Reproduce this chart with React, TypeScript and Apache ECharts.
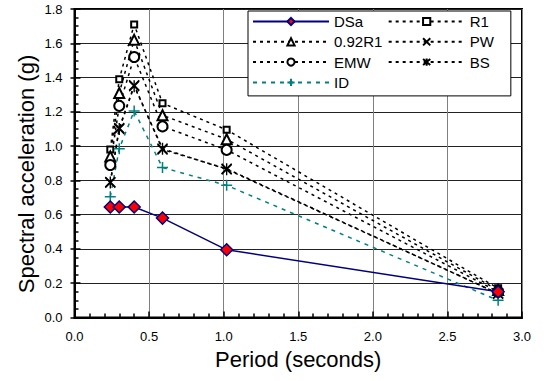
import React, { useEffect, useRef } from "react";
import * as echarts from "echarts";

const periods = [0.24, 0.30, 0.40, 0.59, 1.02, 2.84];
const dsa = [0.645, 0.645, 0.645, 0.58, 0.395, 0.15];
const r1 = [0.98, 1.39, 1.71, 1.25, 1.095, 0.17];
const r1x092 = [0.94, 1.31, 1.62, 1.18, 1.04, 0.16];
const emw = [0.89, 1.235, 1.52, 1.115, 0.978, 0.15];
const pw = [0.79, 1.105, 1.355, 0.98, 0.868, 0.14];
const bs = [0.787, 1.10, 1.35, 0.985, 0.865, 0.14];
const idv = [0.705, 0.985, 1.205, 0.875, 0.771, 0.10];

const xTicks = ["0.0", "0.5", "1.0", "1.5", "2.0", "2.5", "3.0"];
const yTicks = ["0.0", "0.2", "0.4", "0.6", "0.8", "1.0", "1.2", "1.4", "1.6", "1.8"];
const xTitle = "Period (seconds)";
const yTitle = "Spectral acceleration (g)";

const PLUS = "path://M5,0 L5,10 M0,5 L10,5";
const CROSS = "path://M0,0 L10,10 M0,10 L10,0";
const STAR = "path://M0,1 L10,11 M0,11 L10,1 M5,0 L5,12";

const pts = (ys: number[]) => periods.map((p, i) => [p, ys[i]]);

export default function App() {
  const ref = useRef<HTMLDivElement>(null);
  useEffect(() => {
    if (!ref.current) return;
    const chart = echarts.init(ref.current, undefined, { renderer: "svg" });
    const font = "Liberation Sans, Arial, sans-serif";
    const dotted = (color: string, dash: number[]) => ({
      color,
      width: 1.5,
      type: dash,
    });
    chart.setOption({
      animation: false,
      backgroundColor: "#fff",
      textStyle: { fontFamily: font },
      grid: {
        left: 74.5,
        right: 22,
        top: 9,
        bottom: 63.5,
        show: true,
        borderColor: "#000",
        borderWidth: 2,
        backgroundColor: "#fff",
      },
      graphic: [
        {
          type: "text",
          x: 26,
          y: 174,
          rotation: Math.PI / 2,
          style: {
            text: yTitle,
            fontSize: 22,
            fontFamily: font,
            fill: "#000",
            align: "center",
            verticalAlign: "middle",
          },
        },
      ],
      legend: {
        orient: "vertical",
        left: 248,
        top: 11,
        height: 76,
        itemWidth: 76,
        itemHeight: 9,
        itemGap: 5.3,
        padding: [3, 17, 6, 4],
        backgroundColor: "#fff",
        borderColor: "#000",
        borderWidth: 1,
        textStyle: { fontSize: 15, color: "#000", fontFamily: font },
        data: [
          "DSa",
          { name: "0.92R1", textStyle: { width: 52 } },
          "EMW",
          "ID",
          "R1",
          "PW",
          "BS",
        ],
      },
      xAxis: {
        type: "value",
        min: 0,
        max: 3,
        interval: 0.5,
        name: xTitle,
        nameLocation: "middle",
        nameGap: 31,
        nameTextStyle: { fontSize: 22, color: "#000", fontFamily: font },
        axisLine: { lineStyle: { color: "#000", width: 2 } },
        axisTick: { inside: true, length: 6, lineStyle: { color: "#000", width: 1.5 } },
        minorTick: { show: true, splitNumber: 5, length: 4, lineStyle: { color: "#000", width: 1.5 } },
        axisLabel: {
          fontSize: 13,
          color: "#000",
          margin: 12,
          formatter: (v: number) => xTicks[Math.round(v / 0.5)] ?? "",
        },
        splitLine: { show: true, lineStyle: { color: "#808080", width: 1 } },
      },
      yAxis: [
        {
          type: "value",
          min: 0,
          max: 1.8,
          interval: 0.2,
          axisLine: { lineStyle: { color: "#000", width: 2 } },
          axisTick: { inside: true, length: 6, lineStyle: { color: "#000", width: 1.5 } },
          minorTick: { show: true, splitNumber: 4, length: 4, lineStyle: { color: "#000", width: 1.5 } },
          axisLabel: {
            fontSize: 13,
            color: "#000",
            margin: 12,
            formatter: (v: number) => yTicks[Math.round(v / 0.2)] ?? "",
          },
          splitLine: { show: true, lineStyle: { color: "#222", width: 1 } },
        },
        {
          type: "value",
          position: "left",
          min: 0,
          max: 1.8,
          interval: 0.2,
          axisLine: { show: false },
          axisTick: { show: true, inside: false, length: 4, lineStyle: { color: "#000", width: 1.5 } },
          axisLabel: { show: false },
          splitLine: { show: false },
        },
      ],
      series: [
        {
          name: "R1",
          type: "line",
          data: pts(r1),
          symbol: "emptyRect",
          symbolSize: 6,
          lineStyle: dotted("#000", [3, 4]),
          itemStyle: { color: "#000", borderColor: "#000", borderWidth: 1.5 },
          z: 3,
        },
        {
          name: "0.92R1",
          type: "line",
          data: pts(r1x092),
          symbol: "emptyTriangle",
          symbolSize: 10,
          lineStyle: dotted("#000", [3, 4]),
          itemStyle: { color: "#000", borderColor: "#000", borderWidth: 1.5 },
          z: 3,
        },
        {
          name: "EMW",
          type: "line",
          data: pts(emw),
          symbol: "emptyCircle",
          symbolSize: 10,
          lineStyle: dotted("#000", [3, 4]),
          itemStyle: { color: "#000", borderColor: "#000", borderWidth: 1.5 },
          z: 3,
        },
        {
          name: "PW",
          type: "line",
          data: pts(pw),
          symbol: CROSS,
          symbolSize: 10,
          lineStyle: dotted("#000", [3, 4]),
          itemStyle: { color: "#000", borderColor: "#000", borderWidth: 1.5 },
          z: 3,
        },
        {
          name: "BS",
          type: "line",
          data: pts(bs),
          symbol: STAR,
          symbolSize: [10, 12],
          lineStyle: dotted("#000", [3, 4]),
          itemStyle: { color: "#000", borderColor: "#000", borderWidth: 1.5 },
          z: 3,
        },
        {
          name: "ID",
          type: "line",
          data: pts(idv),
          symbol: PLUS,
          symbolSize: 11,
          lineStyle: dotted("#008080", [4, 5]),
          itemStyle: { color: "#008080", borderColor: "#008080", borderWidth: 1.5 },
          z: 3,
        },
        {
          name: "DSa",
          type: "line",
          data: pts(dsa),
          symbol: "diamond",
          symbolSize: 12,
          lineStyle: { color: "#000080", width: 1.5 },
          itemStyle: { color: "#ff0000", borderColor: "#000080", borderWidth: 1.5 },
          z: 4,
        },
      ],
    });
    return () => chart.dispose();
  }, []);
  return (
    <div
      ref={ref}
      style={{ position: "fixed", left: 0, top: 0, width: 544, height: 381 }}
    />
  );
}
